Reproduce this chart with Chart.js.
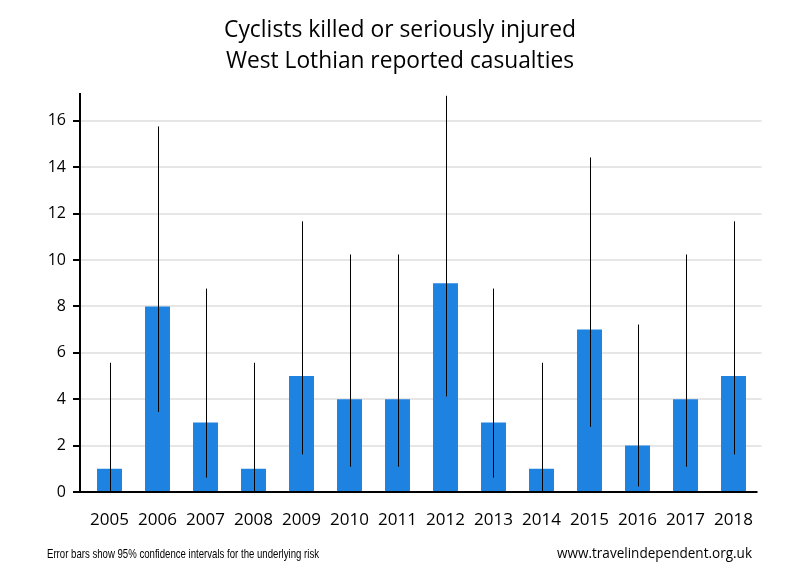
<!DOCTYPE html>
<html>
<head>
<meta charset="utf-8">
<script src="https://cdn.jsdelivr.net/npm/chart.js@4"></script>
<style>
  html, body { margin: 0; padding: 0; background: #fff; }
  #wrap { width: 800px; height: 580px; position: relative; }
</style>
</head>
<body>
<div id="wrap"><canvas id="c" width="800" height="580"></canvas></div>
<script>
// ---- data ----
const years = ['2005','2006','2007','2008','2009','2010','2011','2012','2013','2014','2015','2016','2017','2018'];
const casualties = [1, 8, 3, 1, 5, 4, 4, 9, 3, 1, 7, 2, 4, 5];
const ciLow  = [0.03, 3.45, 0.62, 0.03, 1.62, 1.09, 1.09, 4.12, 0.62, 0.03, 2.81, 0.24, 1.09, 1.62];
const ciHigh = [5.57, 15.76, 8.77, 5.57, 11.67, 10.24, 10.24, 17.08, 8.77, 5.57, 14.42, 7.22, 10.24, 11.67];
const yTicks = [0, 2, 4, 6, 8, 10, 12, 14, 16];
const titleLines = ['Cyclists killed or seriously injured', 'West Lothian reported casualties'];
const noteLeft = 'Error bars show 95% confidence intervals for the underlying risk';
const noteRight = 'www.travelindependent.org.uk';

const AXIS_X = 80; // pixel x of the drawn y-axis line (left of the category area)

const decorPlugin = {
  id: 'decor',
  beforeDatasetsDraw(chart) {
    const ctx = chart.ctx, y = chart.scales.y, a = chart.chartArea;
    ctx.save();
    ctx.strokeStyle = '#e6e6e6';
    ctx.lineWidth = 2;
    yTicks.forEach(v => {
      if (v === 0) return;
      const py = Math.round(y.getPixelForValue(v));
      ctx.beginPath();
      ctx.moveTo(AXIS_X, py);
      ctx.lineTo(a.right + 4, py);
      ctx.stroke();
    });
    ctx.restore();
  },
  afterDatasetsDraw(chart) {
    const ctx = chart.ctx, x = chart.scales.x, y = chart.scales.y, a = chart.chartArea;
    ctx.save();
    ctx.strokeStyle = '#000';
    ctx.lineWidth = 1;
    ciLow.forEach((lo, i) => {
      const px = Math.round(x.getPixelForValue(i)) + 0.5;
      ctx.beginPath();
      ctx.moveTo(px, y.getPixelForValue(lo));
      ctx.lineTo(px, y.getPixelForValue(ciHigh[i]));
      ctx.stroke();
    });
    ctx.lineWidth = 2;
    ctx.beginPath();
    ctx.moveTo(AXIS_X, a.top);
    ctx.lineTo(AXIS_X, a.bottom + 1);
    ctx.stroke();
    ctx.beginPath();
    ctx.moveTo(AXIS_X - 1, a.bottom);
    ctx.lineTo(a.right, a.bottom);
    ctx.stroke();
    yTicks.forEach(v => {
      const py = Math.round(y.getPixelForValue(v));
      ctx.beginPath();
      ctx.moveTo(AXIS_X - 7, py);
      ctx.lineTo(AXIS_X, py);
      ctx.stroke();
    });
    ctx.restore();
  },
  afterDraw(chart) {
    const ctx = chart.ctx;
    ctx.save();
    ctx.fillStyle = '#000';
    ctx.textAlign = 'center';
    ctx.textBaseline = 'alphabetic';
    ctx.font = '23px "Open Sans", sans-serif';
    ctx.fillText(titleLines[0], 400, 37, 352);
    ctx.fillText(titleLines[1], 400, 68, 348);
    ctx.font = '13px "Liberation Sans", sans-serif';
    ctx.textAlign = 'left';
    ctx.fillText(noteLeft, 47, 558, 272);
    ctx.font = '14px "Open Sans", sans-serif';
    ctx.fillText(noteRight, 557, 558, 195);
    ctx.restore();
  }
};

new Chart(document.getElementById('c'), {
  type: 'bar',
  data: {
    labels: years,
    datasets: [{
      data: casualties,
      backgroundColor: '#1e82e1',
      borderWidth: 0,
      barPercentage: 0.52,
      categoryPercentage: 1.0
    }]
  },
  options: {
    responsive: false,
    animation: false,
    events: [],
    layout: { padding: { top: 93, right: 42.5, bottom: 0, left: 0 } },
    plugins: { legend: { display: false }, title: { display: false }, tooltip: { enabled: false } },
    scales: {
      x: {
        type: 'category',
        offset: true,
        grid: { display: false, drawTicks: false },
        border: { display: false },
        ticks: { color: '#000', font: { family: '"Open Sans", sans-serif', size: 17 }, padding: 18, maxRotation: 0 },
        afterFit(s) { s.height = 88; }
      },
      y: {
        min: 0,
        max: 17.2,
        grid: { display: false, drawTicks: false },
        border: { display: false },
        ticks: { color: '#000', font: { family: '"Open Sans", sans-serif', size: 16 }, padding: 19.5 },
        afterBuildTicks(s) { s.ticks = yTicks.map(v => ({ value: v })); },
        afterFit(s) { s.width = 85.5; }
      }
    }
  },
  plugins: [decorPlugin]
});
</script>
</body>
</html>
